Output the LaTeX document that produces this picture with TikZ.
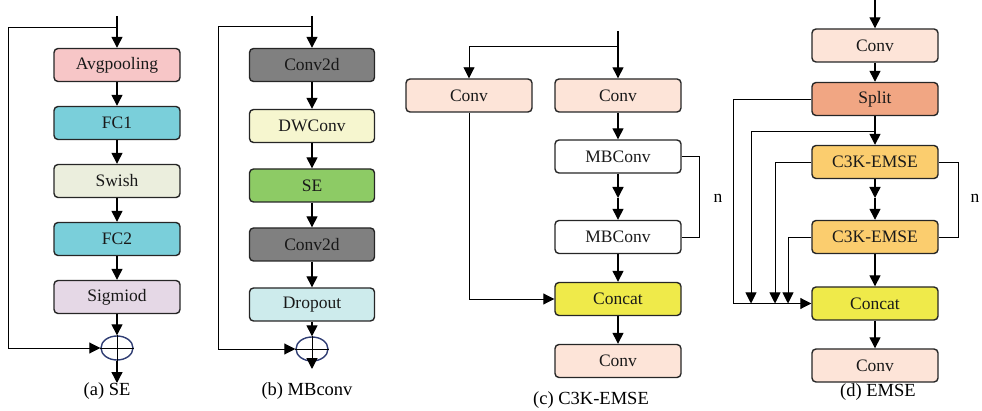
\documentclass[tikz,border=0pt]{standalone}
\usepackage{fontspec}
\setmainfont{Liberation Serif}
\usetikzlibrary{arrows.meta, positioning, calc, shapes.geometric}

\definecolor{poolpink}{HTML}{F7C6C7}
\definecolor{fcblue}{HTML}{7ACFDA}
\definecolor{swishgray}{HTML}{EBEEDD}
\definecolor{sigpurple}{HTML}{E5D8E6}
\definecolor{convgray}{HTML}{808080}
\definecolor{dwyellow}{HTML}{F6F6CF}
\definecolor{segreen}{HTML}{8DCB65}
\definecolor{dropcyan}{HTML}{CDEBEC}
\definecolor{convpeach}{HTML}{FDE4D8}
\definecolor{concatyellow}{HTML}{EFEA4A}
\definecolor{splitorange}{HTML}{F1A683}
\definecolor{emseorange}{HTML}{FBCD6E}
\definecolor{sumblue}{HTML}{2F3D73}

\begin{document}
\begin{tikzpicture}[
    x=1pt, y=-1pt,
    block/.style={rectangle, rounded corners=4pt, draw=black!85, line width=1.4pt,
      minimum width=126pt, minimum height=33pt, inner sep=0pt,
      font=\fontsize{17.5}{19}\selectfont, text=black!90},
    arrow/.style={-{Triangle[length=11pt,width=11pt]}, line width=1.4pt},
    link/.style={line width=0.9pt},
    sumnode/.style={ellipse, draw=sumblue, line width=1.4pt,
      minimum width=32pt, minimum height=24pt, inner sep=0pt},
    caption/.style={font=\fontsize{18.5}{20}\selectfont},
    looplabel/.style={font=\fontsize{17.5}{19}\selectfont}
  ]
  \useasboundingbox (0,0) rectangle (982,411);

  % (a) SE
  \node[block, fill=poolpink]  (avg)   at (117,65)  {Avgpooling};
  \node[block, fill=fcblue]    (fc1)   at (117,123) {FC1};
  \node[block, fill=swishgray] (swish) at (117,181) {Swish};
  \node[block, fill=fcblue]    (fc2)   at (117,239) {FC2};
  \node[block, fill=sigpurple] (sig)   at (117,297) {Sigmiod};
  \node[sumnode]               (sumA)  at (117,348) {};
  \coordinate (inA)  at (117,16);
  \coordinate (outA) at (117,383);
  \coordinate (fbA)  at (8,27);
  \draw[arrow] (inA)   -- (avg);
  \draw[arrow] (avg)   -- (fc1);
  \draw[arrow] (fc1)   -- (swish);
  \draw[arrow] (swish) -- (fc2);
  \draw[arrow] (fc2)   -- (sig);
  \draw[arrow] (sig)   -- (sumA);
  \draw[arrow] (sumA)  -- (outA);
  \draw[link] (sumA.north) -- (sumA.south) (sumA.west) -- (sumA.east);
  \draw[arrow, link] (fbA -| inA) -- (fbA) |- (sumA.west);
  \node[caption] (capA) at (107,391) {(a) SE};

  % (b) MBconv
  \node[block, fill=convgray, minimum width=125pt] (cv1)  at (312,65)    {Conv2d};
  \node[block, fill=dwyellow, minimum width=125pt] (dw)   at (312,126)   {DWConv};
  \node[block, fill=segreen,  minimum width=125pt] (se)   at (312,185.5) {SE};
  \node[block, fill=convgray, minimum width=125pt] (cv2)  at (312,244.5) {Conv2d};
  \node[block, fill=dropcyan, minimum width=125pt] (drop) at (312,304.5) {Dropout};
  \node[sumnode]                                   (sumB) at (312,349)   {};
  \coordinate (inB)  at (312,16);
  \coordinate (outB) at (312,369);
  \coordinate (fbB)  at (218,26);
  \draw[arrow] (inB)  -- (cv1);
  \draw[arrow] (cv1)  -- (dw);
  \draw[arrow] (dw)   -- (se);
  \draw[arrow] (se)   -- (cv2);
  \draw[arrow] (cv2)  -- (drop);
  \draw[arrow] (drop) -- (sumB);
  \draw[arrow] (sumB) -- (outB);
  \draw[link] (sumB.north) -- (sumB.south) (sumB.west) -- (sumB.east);
  \draw[arrow, link] (fbB -| inB) -- (fbB) |- (sumB.west);
  \node[caption] (capB) at (307,391) {(b) MBconv};

  % (c) C3K-EMSE
  \node[block, fill=convpeach]    (convL)   at (469,95.5) {Conv};
  \node[block, fill=convpeach]    (convR)   at (618,95.5) {Conv};
  \node[block, fill=white]        (mb1)     at (618,156.5) {MBConv};
  \node[block, fill=white]        (mb2)     at (618,237)  {MBConv};
  \node[block, fill=concatyellow] (concatC) at (618,299)  {Concat};
  \node[block, fill=convpeach]    (convC)   at (618,361)  {Conv};
  \coordinate (inC)    at (618,31);
  \coordinate (splitC) at (618,46);
  \coordinate (midC)   at (618,198);
  \draw[arrow] (inC) -- (convR);
  \draw[arrow, link] (splitC) -| (convL);
  \draw[arrow, link] (convL) |- (concatC);
  \draw[arrow] (convR) -- (mb1);
  \draw[arrow] (mb1)   -- (midC);
  \draw[arrow] (midC)  -- (mb2);
  \draw[arrow] (mb2)   -- (concatC);
  \draw[arrow] (concatC) -- (convC);
  % repeat loop round the MBConv pair
  \draw[link] (mb1.east) -- ++(18,0) |- (mb2.east);
  \node[looplabel] (nC) at (718,198) {n};
  \node[caption] (capC) at (591,400) {(c) C3K-EMSE};

  % (d) EMSE
  \node[block, fill=convpeach]    (convD1)  at (875,45.5)  {Conv};
  \node[block, fill=splitorange]  (split)   at (875,99)    {Split};
  \node[block, fill=emseorange]   (c3k1)    at (875,162)   {C3K-EMSE};
  \node[block, fill=emseorange]   (c3k2)    at (875,237)   {C3K-EMSE};
  \node[block, fill=concatyellow] (concatD) at (875,303.5) {Concat};
  \node[block, fill=convpeach]    (convD2)  at (875,365.5) {Conv};
  \coordinate (inD)  at (875,0);
  \coordinate (tapD) at (875,131);
  \coordinate (midD) at (875,198);
  \coordinate (busA) at (751,303.5);
  \coordinate (busB) at (775,303.5);
  \coordinate (busC) at (788,303.5);
  \draw[arrow] (inD)    -- (convD1);
  \draw[arrow] (convD1) -- (split);
  \draw[arrow] (split)  -- (c3k1);
  \draw[arrow] (c3k1)   -- (midD);
  \draw[arrow] (midD)   -- (c3k2);
  \draw[arrow] (c3k2)   -- (concatD);
  \draw[arrow] (concatD) -- (convD2);
  % side taps feeding the concat bus
  \draw[arrow, link] (split.west) -- ++(-78,0) |- (concatD.west);
  \draw[arrow, link] (tapD) -| (busA);
  \draw[arrow, link] (c3k1.west) -| (busB);
  \draw[arrow, link] (c3k2.west) -| (busC);
  \draw[link] (c3k1.east) -- ++(20,0) |- (c3k2.east);
  \node[looplabel] (nD) at (975,198) {n};
  \node[caption] (capD) at (878,392) {(d) EMSE};
\end{tikzpicture}
\end{document}
